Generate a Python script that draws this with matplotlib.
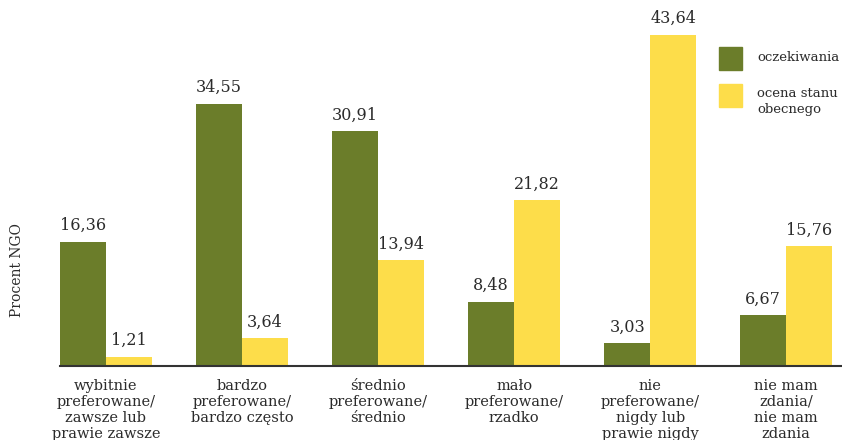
import numpy as np
import matplotlib.pyplot as plt
from matplotlib.patches import Rectangle

# Dane: odsetek NGO w poszczególnych kategoriach
kategorie = [
    "wybitnie\npreferowane/\nzawsze lub\nprawie zawsze",
    "bardzo\npreferowane/\nbardzo często",
    "średnio\npreferowane/\nśrednio",
    "mało\npreferowane/\nrzadko",
    "nie\npreferowane/\nnigdy lub\nprawie nigdy",
    "nie mam\nzdania/\nnie mam\nzdania",
]
serie = ["oczekiwania", "ocena stanu\nobecnego"]
oczekiwania = [16.36, 34.55, 30.91, 8.48, 3.03, 6.67]
ocena_stanu = [1.21, 3.64, 13.94, 21.82, 43.64, 15.76]

zielony = "#6b7d2a"
zolty = "#fddd4a"
tekst = "#2b2b2b"

plt.rcParams["font.family"] = "DejaVu Serif"

W, H = 842, 440
fig = plt.figure(figsize=(W / 100, H / 100), dpi=100)
ax = fig.add_axes([60 / W, 74 / H, 782 / W, 346 / H])

x = np.arange(len(kategorie))
szer = 0.338  # szerokość pojedynczego słupka

s1 = ax.bar(x - szer / 2, oczekiwania, szer, color=zielony)
s2 = ax.bar(x + szer / 2, ocena_stanu, szer, color=zolty)

# Wartości nad słupkami
for slupki, wartosci in [(s1, oczekiwania), (s2, ocena_stanu)]:
    for b, v in zip(slupki, wartosci):
        ax.annotate(f"{v:.2f}".replace(".", ","),
                    (b.get_x() + b.get_width() / 2, v),
                    xytext=(0, 5.5), textcoords="offset points",
                    ha="center", va="bottom", fontsize=11.5, color=tekst)

ax.set_xlim(-szer, 5.41)
ax.set_ylim(0, 45.6)
ax.set_xticks(x)
ax.set_xticklabels(kategorie, fontsize=10.5, color=tekst, linespacing=1.2)
ax.tick_params(axis="x", length=0, pad=9)
ax.set_yticks([])

for strona in ["top", "right", "left"]:
    ax.spines[strona].set_visible(False)
ax.spines["bottom"].set_color("#333333")
ax.spines["bottom"].set_linewidth(1.5)

fig.text(17 / W, 1 - 270 / H, "Procent NGO", rotation=90,
         ha="center", va="center", fontsize=10, color=tekst)

# Legenda rysowana ręcznie: kwadraty + opisy
for kolor, opis, y0, va in [(zielony, serie[0], 47, "center"),
                            (zolty, serie[1], 84, "top")]:
    fig.add_artist(Rectangle((719 / W, 1 - (y0 + 23) / H), 23 / W, 23 / H,
                             transform=fig.transFigure, color=kolor))
    ty = 1 - (y0 + 10.5) / H if va == "center" else 1 - (y0 + 3) / H
    fig.text(757 / W, ty, opis, ha="left", va=va, fontsize=9.5,
             color=tekst, linespacing=1.25)

plt.savefig("out.png", dpi=100)
